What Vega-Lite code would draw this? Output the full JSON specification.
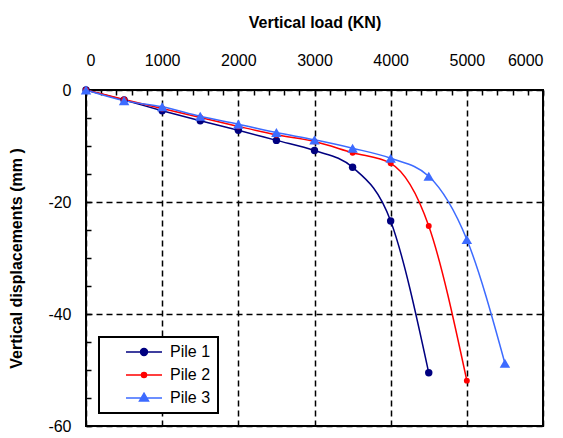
{
  "$schema": "https://vega.github.io/schema/vega-lite/v6.json",
  "width": 457,
  "height": 336,
  "autosize": "none",
  "padding": {"left": 86, "top": 90, "right": 20, "bottom": 12},
  "config": {
    "font": "Liberation Sans",
    "view": {"stroke": "black", "strokeWidth": 2},
    "axis": {
      "domain": false,
      "tickColor": "black",
      "tickWidth": 1.5,
      "tickSize": -5,
      "labelColor": "black",
      "titleColor": "black",
      "labelFontSize": 16,
      "titleFontSize": 16,
      "titleFontWeight": "bold",
      "gridColor": "black",
      "gridWidth": 1.5,
      "gridDash": [6, 4]
    }
  },
  "data": {
    "values": [
      {"pile": "Pile 1", "load": 0, "disp": 0},
      {"pile": "Pile 1", "load": 500, "disp": -1.8},
      {"pile": "Pile 1", "load": 1000, "disp": -3.7},
      {"pile": "Pile 1", "load": 1500, "disp": -5.5},
      {"pile": "Pile 1", "load": 2000, "disp": -7.2},
      {"pile": "Pile 1", "load": 2500, "disp": -9.0},
      {"pile": "Pile 1", "load": 3000, "disp": -10.8},
      {"pile": "Pile 1", "load": 3500, "disp": -13.8},
      {"pile": "Pile 1", "load": 4000, "disp": -23.4},
      {"pile": "Pile 1", "load": 4500, "disp": -50.5},
      {"pile": "Pile 2", "load": 0, "disp": 0},
      {"pile": "Pile 2", "load": 500, "disp": -1.7},
      {"pile": "Pile 2", "load": 1000, "disp": -3.3},
      {"pile": "Pile 2", "load": 1500, "disp": -4.9},
      {"pile": "Pile 2", "load": 2000, "disp": -6.5},
      {"pile": "Pile 2", "load": 2500, "disp": -8.0},
      {"pile": "Pile 2", "load": 3000, "disp": -9.2},
      {"pile": "Pile 2", "load": 3500, "disp": -11.2},
      {"pile": "Pile 2", "load": 4000, "disp": -13.1},
      {"pile": "Pile 2", "load": 4500, "disp": -24.3},
      {"pile": "Pile 2", "load": 5000, "disp": -51.9},
      {"pile": "Pile 3", "load": 0, "disp": 0},
      {"pile": "Pile 3", "load": 500, "disp": -1.9},
      {"pile": "Pile 3", "load": 1000, "disp": -3.0},
      {"pile": "Pile 3", "load": 1500, "disp": -4.7},
      {"pile": "Pile 3", "load": 2000, "disp": -6.1},
      {"pile": "Pile 3", "load": 2500, "disp": -7.6},
      {"pile": "Pile 3", "load": 3000, "disp": -8.9},
      {"pile": "Pile 3", "load": 3500, "disp": -10.4},
      {"pile": "Pile 3", "load": 4000, "disp": -12.2},
      {"pile": "Pile 3", "load": 4500, "disp": -15.4},
      {"pile": "Pile 3", "load": 5000, "disp": -26.7},
      {"pile": "Pile 3", "load": 5500, "disp": -48.8}
    ]
  },
  "encoding": {
    "x": {
      "field": "load",
      "type": "quantitative",
      "scale": {"domain": [0, 6000], "nice": false, "zero": false},
      "axis": {
        "orient": "top",
        "title": "Vertical load (KN)",
        "values": [0, 200, 400, 600, 800, 1000, 1200, 1400, 1600, 1800, 2000, 2200, 2400, 2600, 2800, 3000, 3200, 3400, 3600, 3800, 4000, 4200, 4400, 4600, 4800, 5000, 5200, 5400, 5600, 5800, 6000],
        "labelExpr": "datum.value % 1000 === 0 ? '' + datum.value : ''",
        "labelPadding": 27,
        "titlePadding": 22,
        "grid": true,
        "gridOpacity": {"condition": {"test": "datum.value % 1000 === 0", "value": 1}, "value": 0}
      }
    },
    "y": {
      "field": "disp",
      "type": "quantitative",
      "scale": {"domain": [-60, 0], "nice": false, "zero": false},
      "axis": {
        "title": "Vertical displacements (mm )",
        "values": [-60, -55, -50, -45, -40, -35, -30, -25, -20, -15, -10, -5, 0],
        "labelExpr": "datum.value % 20 === 0 ? '' + datum.value : ''",
        "labelPadding": 20,
        "titlePadding": 23,
        "grid": true,
        "gridOpacity": {"condition": {"test": "datum.value % 20 === 0", "value": 1}, "value": 0}
      }
    },
    "color": {
      "field": "pile",
      "type": "nominal",
      "scale": {"domain": ["Pile 1", "Pile 2", "Pile 3"], "range": ["#000080", "#ff0000", "#3d6bff"]}
    }
  },
  "layer": [
    {
      "mark": {"type": "line", "interpolate": "monotone", "strokeWidth": 1.5},
      "encoding": {
        "color": {
          "field": "pile",
          "type": "nominal",
          "legend": {
            "title": null,
            "orient": "bottom-left",
            "offset": 13,
            "padding": 7,
            "fillColor": "white",
            "strokeColor": "black",
            "labelFontSize": 16,
            "labelColor": "black",
            "symbolSize": 144,
            "symbolStrokeWidth": 1.5,
            "rowPadding": 7,
            "labelOffset": 48,
            "encode": {
              "legend": {"update": {"strokeWidth": {"value": 2}}},
              "symbols": {
                "update": {
                  "shape": {"signal": "datum.value === 'Pile 3' ? 'M2,0H8M5,-0.8L5.75,0.5H4.25Z' : datum.value === 'Pile 2' ? 'M2,0H8M4.58,0A0.42,0.42,0,1,1,5.42,0A0.42,0.42,0,1,1,4.58,0Z' : 'M2,0H8M4.42,0A0.58,0.58,0,1,1,5.58,0A0.58,0.58,0,1,1,4.42,0Z'"},
                  "fill": {"signal": "datum.value === 'Pile 3' ? '#3d6bff' : datum.value === 'Pile 2' ? '#ff0000' : '#000080'"},
                  "stroke": {"signal": "datum.value === 'Pile 3' ? '#3d6bff' : datum.value === 'Pile 2' ? '#ff0000' : '#000080'"}
                }
              }
            }
          }
        }
      }
    },
    {
      "transform": [{"filter": "datum.pile !== 'Pile 3'"}],
      "mark": {"type": "point", "shape": "circle", "filled": true, "opacity": 1},
      "encoding": {
        "color": {"field": "pile", "type": "nominal", "legend": null},
        "size": {
          "field": "pile",
          "type": "nominal",
          "scale": {"domain": ["Pile 1", "Pile 2"], "range": [55, 35]},
          "legend": null
        }
      }
    },
    {
      "transform": [{"filter": "datum.pile === 'Pile 3'"}],
      "mark": {"type": "point", "shape": "triangle-up", "filled": true, "opacity": 1, "size": 110},
      "encoding": {
        "color": {"field": "pile", "type": "nominal", "legend": null}
      }
    }
  ]
}
